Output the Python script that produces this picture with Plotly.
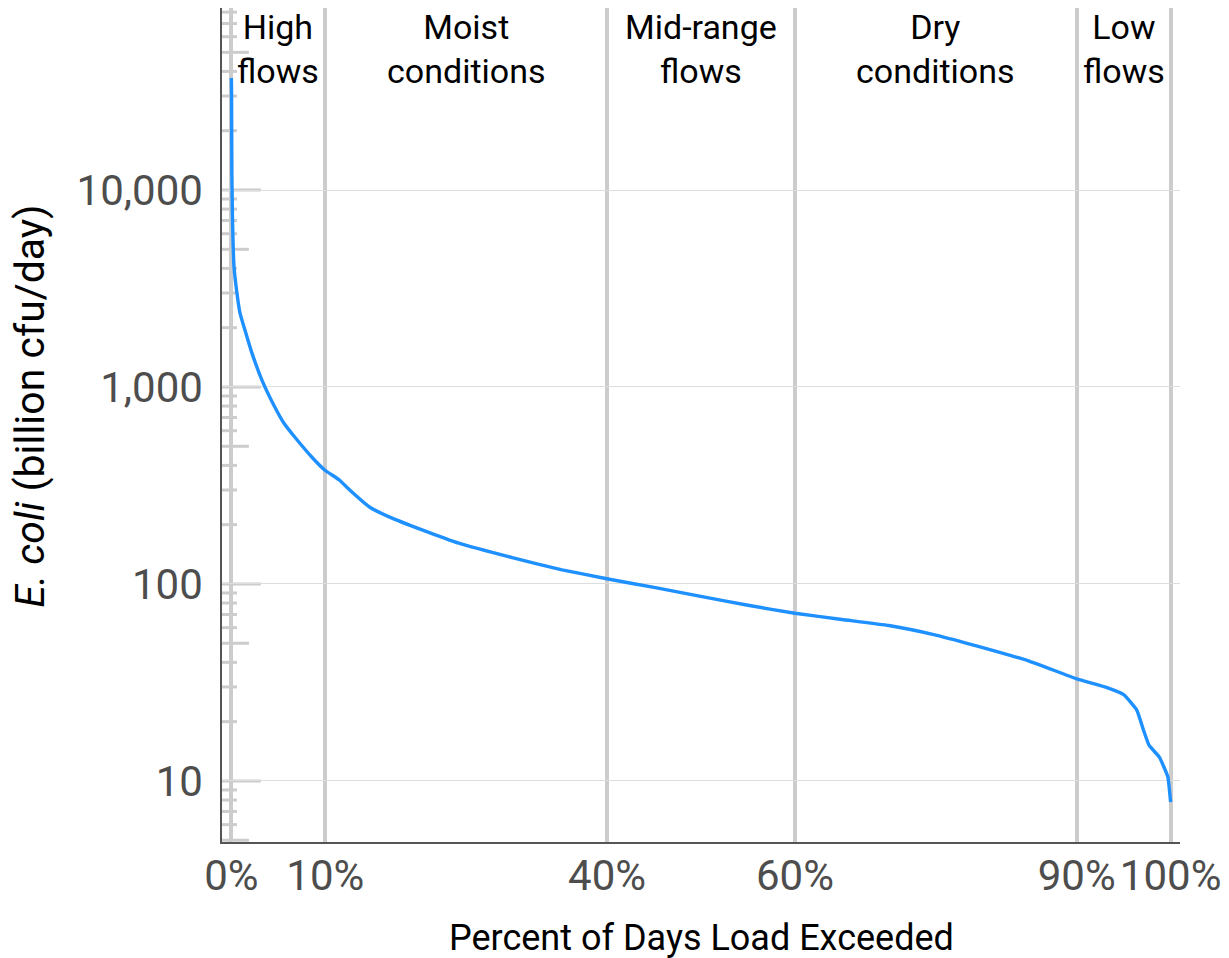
import numpy as np
import plotly.graph_objects as go

# Load duration curve: percent of days exceeded vs E. coli load (billion cfu/day)
pct_exceeded = [0.0, 0.02, 0.05, 0.12, 0.28, 0.59, 0.91, 1.44, 2.18, 3.24, 4.62,
                5.58, 6.74, 8.65, 9.93, 11.5, 12.6, 14.7, 16.8, 20.3, 24.2, 29.9,
                35.2, 40.1, 45.0, 49.7, 55.0, 60.0, 65.0, 70.0, 75.0, 80.0, 85.0,
                90.0, 93.0, 95.0, 96.4, 97.1, 97.7, 98.8, 99.7, 100.0]
load_values = [37000, 30000, 12200, 7000, 4070, 3000, 2380, 1945, 1490, 1087, 791,
               656, 557, 436, 379, 337, 300, 246, 219, 188, 161, 136,
               118, 106, 96, 87, 78, 71, 66, 61.5, 55, 47.5, 40.5,
               33, 30, 27.4, 22.9, 18.2, 15.2, 13.2, 10.5, 7.8]

# Flow regime boundaries and labels
zone_breaks = [0, 10, 40, 60, 90, 100]
zone_centers = [5, 25, 50, 75, 95]
zone_labels = ["High<br>flows", "Moist<br>conditions", "Mid-range<br>flows",
               "Dry<br>conditions", "Low<br>flows"]

y_tickvals = [10, 100, 1000, 10000]
y_ticktext = ["10", "100", "1,000", "10,000"]
x_ticktext = ["0%", "10%", "40%", "60%", "90%", "100%"]

W, H = 1229, 958
L, R, T, B = 222, 45, 8, 116
plot_w = W - L - R
plot_h = H - T - B

fig = go.Figure()
fig.add_trace(go.Scatter(
    x=pct_exceeded, y=load_values, mode="lines",
    line=dict(color="#1E90FF", width=3.4, shape="spline", smoothing=0.4),
    hoverinfo="skip", showlegend=False,
))

# Log ticks along the left edge (long at decades, medium at 5s, short otherwise)
y_lo, y_hi = 0.690, 4.924
shapes = []
for dec in range(0, 6):
    for m in range(1, 10):
        v = m * 10 ** dec
        lv = np.log10(v)
        if lv < y_lo - 1e-6 or lv > y_hi:
            continue
        if m == 1:
            length = 39
        elif m == 5:
            length = 27
        else:
            length = 15
        shapes.append(dict(
            type="line", xref="paper", yref="y",
            x0=0, x1=length / plot_w, y0=v, y1=v,
            line=dict(color="#CCCCCC", width=3), layer="below",
        ))

annotations = []
for xc, lab in zip(zone_centers, zone_labels):
    annotations.append(dict(
        x=xc, xref="x", y=1, yref="paper", yanchor="top", yshift=3,
        text=lab, showarrow=False,
        font=dict(family="Roboto", size=34, color="#000000"),
    ))

annotations.append(dict(
    x=(29 - L) / plot_w, xref="paper", y=(H - B - 406) / plot_h, yref="paper",
    xanchor="center", yanchor="middle", textangle=-90,
    text="<i>E. coli</i> (billion cfu/day)", showarrow=False,
    font=dict(family="Roboto", size=41, color="#000000"),
))
annotations.append(dict(
    x=0.5, xref="paper", y=-(938 - (H - B)) / plot_h, yref="paper",
    xanchor="center", yanchor="middle",
    text="Percent of Days Load Exceeded", showarrow=False,
    font=dict(family="Roboto", size=36, color="#000000"),
))

fig.update_layout(
    width=W, height=H,
    margin=dict(l=L, r=R, t=T, b=B, pad=0),
    paper_bgcolor="white", plot_bgcolor="white",
    shapes=shapes, annotations=annotations,
    xaxis=dict(
        range=[-1, 101], tickvals=zone_breaks, ticktext=x_ticktext,
        showgrid=True, gridcolor="#CCCCCC", gridwidth=3.5,
        zeroline=False, showline=True, linecolor="#555555", linewidth=1.5,
        ticks="", ticklabelstandoff=-4,
        tickfont=dict(family="Roboto", size=42, color="#4D4D4D"),
    ),
    yaxis=dict(
        type="log", range=[y_lo, y_hi], tickvals=y_tickvals, ticktext=y_ticktext,
        showgrid=True, gridcolor="#DDDDDD", gridwidth=1,
        zeroline=False, showline=True, linecolor="#555555", linewidth=1.5,
        ticks="", ticklabelstandoff=9,
        tickfont=dict(family="Roboto", size=42, color="#4D4D4D"),
    ),
)

fig.write_html("out.html")
